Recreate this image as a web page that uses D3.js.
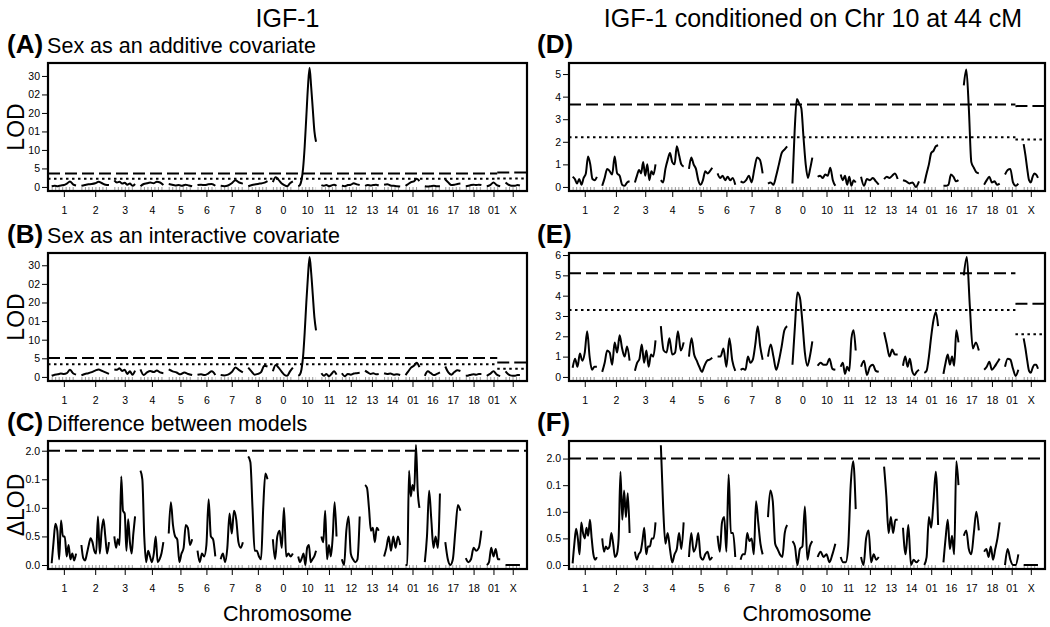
<!DOCTYPE html>
<html><head><meta charset="utf-8">
<script src="https://cdn.jsdelivr.net/npm/d3@7"></script>
<style>
html,body{margin:0;padding:0;background:#fff;}
svg{display:block;font-family:"Liberation Sans",Arial,Helvetica,sans-serif;}
</style></head>
<body><svg id="chart" width="1050" height="627"></svg>
<script>
// ---------------- DATA ----------------
const chromosomes = ["1","2","3","4","5","6","7","8","9","10","11","12","13","14","15","16","17","18","19","X"];
const chrTickLabels = ["1","2","3","4","5","6","7","8","0","10","11","12","13","14","01","16","17","18","01","X"];
const chrLengths = [100,113,85,94,96,73,91,79,82,73,62,73,56,66,57,62,62,64,55,59]; // cM
const chrGap = 22, startPad = 15, endPad = 29;

const lodTicks30 = [0,5,10,15,20,25,30];
const lodTickLabels30 = ["0","5","10","01","20","02","30"];
const lodTicksD = [0,1,2,3,4,5];
const lodTicksE = [0,1,2,3,4,5,6];
const dlodTicks = [0,0.5,1,1.5,2];
const dlodTickLabels = ["0.0","0.5","1.0","0.1","2.0"];

// thresholds: [dashed, dotted] for autosomes and X
const thrA = [3.6, 2.2], thrAX = [3.9, 2.3];
const thrB = [5.1, 3.4], thrBX = [3.9, 2.2];
const thrC = [2.0];
const thrD = [3.65, 2.2], thrDX = [3.58, 2.1];
const thrE = [5.1, 3.3], thrEX = [3.6, 2.1];
const thrF = [2.0];

const lodA = [
 [0.2,0.3,0.2,0.4,0.5,0.9,1.5,0.7,0.4],
 [0.3,0.5,0.7,0.8,1.0,1.4,1.0,0.6,0.5],
 [1.8,1.2,1.4,0.9,1.1,0.6,0.9,0.3,0.8],
 [0.2,0.8,1.0,1.2,1.0,1.4,1.2,0.5],
 [0.8,0.6,0.4,0.5,0.3,0.6,0.4,0.2],
 [0.5,0.6,0.5,0.7,0.8,0.3],
 [0.3,0.2,0.4,1.0,1.8,1.2,0.9],
 [0.2,0.5,0.7,0.9,1.1,1.6],
 [1.3,2.6,1.9,1.0,0.5,0.2,1.0,1.5],
 [0.2,0.5,1.8,5,11,19,27,32.2,27,21,15,12.2],
 [0.5,0.3,0.5,0.2,0.4,0.6,0.3],
 [0.3,0.2,0.5,0.6,1.0,0.7,0.5],
 [0.3,0.5,0.4,0.5,0.6,0.4],
 [0.6,0.7,0.4,0.3,0.2,0.1],
 [0.3,0.8,1.3,1.5,2.2,1.6],
 [0.2,0.1,0.2,0.3,0.2,0.2],
 [2.0,1.2,0.5,0.6,0.8,0.9],
 [0.2,0.3,0.5,0.6,0.5,0.6,0.5],
 [0.2,0.5,1.2,0.5,0.2],
 [1.2,0.7,0.4,0.3,0.3,0.5,0.4]
];
const lodB = [
 [0.3,0.6,0.7,0.9,0.8,1.0,1.9,1.0,0.6],
 [0.4,0.8,1.0,1.3,1.7,2.0,1.6,1.2,0.8],
 [2.0,1.9,2.3,1.6,1.9,0.8,1.5,0.6,1.7],
 [2.0,0.5,1.2,1.6,1.3,1.7,1.2,1.0],
 [2.0,1.5,1.2,0.7,1.2,0.8,0.5],
 [0.6,0.7,0.5,0.9,1.5,0.5],
 [0.5,0.4,0.6,1.3,2.5,1.8,1.2],
 [2.5,1.5,0.6,0.8,1.3,3.0,2.8],
 [1.5,3.2,2.5,1.5,0.6,0.3,1.5,2.5],
 [0.3,0.6,2,5.5,12,20,27,32.2,28,22,16,12.5],
 [1.0,0.3,0.8,0.2,0.8,1.5,0.6],
 [1.0,0.2,0.8,0.6,0.9,1.0,1.1],
 [1.7,1.2,0.8,1.0,0.7,0.8],
 [1.0,0.8,0.9,0.6,0.7,0.5],
 [0.5,1.5,2.5,3.0,3.8,2.6],
 [0.3,1.5,1.0,0.5,0.8,1.2],
 [2.8,1.2,0.6,1.3,1.8,1.6],
 [0.3,0.4,0.6,0.7,0.6,0.8,0.8],
 [0.3,0.8,1.5,0.6,0.2],
 [1.5,0.8,0.4,0.3,0.3,0.5,0.5]
];
const lodC = [
 [0.03,0.4,0.72,0.6,0.1,0.78,0.5,0.5,0.15,0.35,0.1,0.2,0.08,0.2],
 [0.35,0.12,0.08,0.2,0.35,0.47,0.4,0.25,0.2,0.85,0.2,0.6,0.8,0.5,0.2,0.4],
 [0.5,0.3,0.45,0.35,1.55,0.95,0.9,0.25,0.8,0.4,0.2,0.55,0.85],
 [1.65,1.5,0.5,0.05,0.25,0.15,0.05,0.2,0.5,0.05,0.1,0.2,0.4],
 [0.55,1.1,0.7,0.5,0.45,0.05,0.2,0.3,0.7,0.65,0.35,0.45],
 [0.25,0.05,0.2,0.15,0.35,1.15,0.5,0.45,0.15],
 [0.1,0.2,0.05,0.3,0.9,0.55,0.95,0.8,0.4,0.3,0.4],
 [1.9,1.8,1.0,0.25,0.25,0.15,0.1,1.0,1.6,1.5],
 [0.45,0.1,0.5,0.6,0.3,1.0,0.15,0.2,0.15,0.2],
 [0.15,0.05,0.12,0.2,0.0,0.3,0.35,0.05,0.1,0.15,0.25],
 [0.5,0.4,0.95,0.1,0.35,0.15,0.5,1.1,0.5],
 [0.1,0.0,0.6,0.85,0.2,0.1,0.05,0.1,0.85],
 [1.4,1.35,1.0,0.6,0.65,0.4,0.65,0.6],
 [0.15,0.3,0.5,0.25,0.5,0.3,0.5,0.35],
 [0.0,0.0,1.65,1.2,1.4,1.3,2.1,1.3,1.0],
 [0.05,0.5,1.3,0.8,0.3,0.5,0.3,1.25],
 [0.4,0.1,0.0,0.1,0.6,1.05,0.95],
 [0.12,0.05,0.1,0.3,0.25,0.3,0.6],
 [0.0,0.05,0.3,0.15,0.28,0.1,0.1],
 [0.0,0.0]
];
const lodD = [
 [0.45,0.35,0.15,0.35,0.1,0.4,0.6,1.35,1.0,0.35,0.3,0.45],
 [0.05,0.4,0.8,0.7,0.55,1.35,0.6,0.5,0.1,0.05,0.2,0.25],
 [0.2,0.5,0.75,0.6,1.1,0.5,1.0,0.3,0.7,0.55,1.0],
 [0.3,0.2,0.8,1.2,1.5,1.1,1.0,1.8,1.4,1.0,0.9],
 [0.8,1.3,1.0,0.8,0.3,0.1,0.3,0.7,0.6,0.7,0.85],
 [0.6,0.4,0.5,0.3,0.45,0.3,0.4,0.1],
 [0.25,0.2,0.3,0.5,0.2,0.8,1.3,1.2,0.6],
 [0.15,0.2,0.1,0.5,1.0,1.5,1.65,1.8],
 [0.15,2.5,3.9,3.7,3.5,2.2,1.0,0.4,0.8,1.3],
 [0.45,0.5,0.4,0.55,0.5,0.85,0.3,0.05],
 [0.55,0.3,0.5,0.1,0.45,0.05,0.3,0.2],
 [0.45,0.05,0.35,0.3,0.4,0.25,0.1],
 [0.35,0.45,0.4,0.5,0.6,0.35],
 [0.3,0.25,0.15,0.2,0.0,0.25],
 [0.15,0.6,1.0,1.5,1.6,1.8,1.85],
 [0.05,0.05,0.1,0.55,0.45,0.25,0.3],
 [4.5,5.2,3.5,1.1,0.85,0.65,0.6],
 [0.1,0.3,0.45,0.2,0.25,0.1,0.15],
 [0.55,0.75,0.8,0.2,0.05,0.15],
 [1.9,1.4,0.8,0.3,0.2,0.45,0.6,0.55,0.4]
];
const lodE = [
 [0.45,0.9,0.5,1.15,0.8,1.2,2.25,1.0,0.35,0.5,0.5],
 [0.25,0.7,1.3,1.2,0.6,1.7,1.2,2.05,1.4,1.0,1.5,0.8],
 [0.3,0.7,0.9,1.6,0.7,1.3,0.5,1.1,1.0,1.8],
 [2.5,1.3,1.2,1.9,1.1,1.2,2.25,1.3,1.7],
 [1.0,1.9,1.1,0.8,0.5,0.25,0.55,0.8,0.85,0.95],
 [1.0,1.0,1.4,0.5,1.9,0.8,0.3],
 [0.35,0.4,0.35,1.0,0.7,0.85,1.6,2.5,1.5,0.85],
 [1.0,1.6,1.0,0.35,0.8,1.5,2.3,2.5],
 [0.6,2.5,4.15,3.9,2.7,1.2,0.55,1.0,1.75],
 [0.55,0.7,0.6,0.6,0.9,0.4,0.35],
 [0.5,0.7,0.15,0.5,0.3,1.9,2.3,1.3],
 [0.5,0.8,0.1,0.5,0.6,0.3,0.25],
 [2.2,1.6,1.0,1.35,1.1,1.1],
 [0.55,1.0,0.5,0.9,0.3,0.1,0.25,0.35],
 [0.2,0.3,1.0,2.0,2.8,3.2,2.5],
 [0.15,0.7,1.1,0.6,1.0,0.55,2.3,1.7],
 [5.0,5.9,3.5,1.4,1.7,1.3],
 [0.35,0.5,0.75,0.35,0.5,0.7,0.9],
 [0.5,0.9,0.85,0.4,0.05,0.35],
 [1.9,1.4,0.8,0.3,0.2,0.45,0.6,0.6,0.4]
];
const lodF = [
 [0.03,0.4,0.68,0.5,0.2,0.8,0.6,0.5,0.7,0.55,0.85,0.5,0.2,0.1,0.15],
 [0.5,0.25,0.35,0.3,0.35,0.6,0.4,0.15,0.2,0.5,1.75,0.85,1.4,0.9,1.35,0.6],
 [0.25,0.1,0.2,0.25,0.45,0.7,0.2,0.35,0.35,0.5,0.5,0.8],
 [2.25,1.1,0.4,0.6,0.3,0.05,0.2,0.3,0.6,0.3,0.8],
 [0.15,0.6,0.25,0.35,0.6,0.15,0.1,0.2,0.25,0.1,0.15],
 [0.55,0.25,0.8,0.9,0.25,1.7,0.6,0.6,0.15],
 [0.1,0.2,0.2,0.6,0.45,0.5,0.2,1.2,0.8,0.4,0.2],
 [0.9,1.4,1.2,0.4,0.3,0.2,0.15,0.6,0.75],
 [0.45,0.35,0.0,0.3,0.35,1.1,0.1,0.35,0.45],
 [0.15,0.25,0.15,0.2,0.05,0.2,0.4],
 [0.15,0.05,0.05,0.35,1.5,1.95,1.05],
 [0.15,0.0,0.5,0.65,0.05,0.2,0.1,0.15],
 [1.85,1.3,0.6,0.9,0.6,0.85,0.85],
 [0.7,0.2,0.75,0.0,0.1,0.05,0.1],
 [0.0,0.15,0.9,0.7,1.2,1.75,0.75],
 [0.05,0.5,0.85,0.3,0.55,0.2,1.95,1.5],
 [0.55,0.65,0.3,0.2,0.6,1.0,0.65],
 [0.25,0.3,0.15,0.35,0.1,0.3,0.5,0.8],
 [0.0,0.3,0.1,0.0,0.0,0.2],
 [0.0,0.0]
];

// ---------------- LAYOUT ----------------
const svg = d3.select("#chart");
const FONT = "'Liberation Sans',Arial,Helvetica,sans-serif";

const chrStarts = [];
{ let p = startPad; chrLengths.forEach((L,i)=>{ chrStarts.push(p); p += L + chrGap; }); }
const totalLen = chrStarts[chrStarts.length-1] + chrLengths[chrLengths.length-1] + endPad;
const chrMids = chrStarts.map((s,i)=> s + chrLengths[i]/2);
const xBoundary = chrStarts[18] + chrLengths[18] - 12;

const cols = [{x0:48,x1:527},{x0:569,x1:1045}];
const rows = [{y0:63,y1:191},{y0:253,y1:381},{y0:441,y1:569}];

const panels = [
 {letter:"(A)", sub:"Sex as an additive covariate", col:0,row:0, data:lodA, thr:thrA, thrX:thrAX, dom:[-1.1,33.5], ticks:lodTicks30, tickLabels:lodTickLabels30, ylab:"LOD"},
 {letter:"(B)", sub:"Sex as an interactive covariate", col:0,row:1, data:lodB, thr:thrB, thrX:thrBX, dom:[-1.1,33.3], ticks:lodTicks30, tickLabels:lodTickLabels30, ylab:"LOD"},
 {letter:"(C)", sub:"Difference between models", col:0,row:2, data:lodC, thr:thrC, thrX:null, dom:[-0.07,2.17], ticks:dlodTicks, tickLabels:dlodTickLabels, ylab:"\u0394LOD", xlab:true},
 {letter:"(D)", sub:"", col:1,row:0, data:lodD, thr:thrD, thrX:thrDX, dom:[-0.18,5.49], ticks:lodTicksD, tickLabels:lodTicksD.map(String)},
 {letter:"(E)", sub:"", col:1,row:1, data:lodE, thr:thrE, thrX:thrEX, dom:[-0.2,6.1], ticks:lodTicksE, tickLabels:lodTicksE.map(String)},
 {letter:"(F)", sub:"", col:1,row:2, data:lodF, thr:thrF, thrX:null, dom:[-0.075,2.33], ticks:dlodTicks, tickLabels:dlodTickLabels, xlab:true}
];

svg.append("text").attr("x",(cols[0].x0+cols[0].x1)/2).attr("y",27).attr("text-anchor","middle")
  .attr("font-size",25).attr("font-family",FONT).text("IGF-1");
svg.append("text").attr("x",813).attr("y",27).attr("text-anchor","middle")
  .attr("font-size",25).attr("font-family",FONT).text("IGF-1 conditioned on Chr 10 at 44 cM");

const dashStyles = ["12,5","2.5,3.5"];

panels.forEach(p=>{
  const c = cols[p.col], r = rows[p.row];
  const x = d3.scaleLinear().domain([0,totalLen]).range([c.x0,c.x1]);
  const y = d3.scaleLinear().domain(p.dom).range([r.y1,r.y0]);
  const g = svg.append("g");

  const lx = p.col===0 ? 7 : 537;
  const ht = g.append("text").attr("x",lx).attr("y",r.y0-10).attr("font-family",FONT);
  ht.append("tspan").attr("font-weight","bold").attr("font-size",26).text(p.letter);
  if (p.sub) ht.append("tspan").attr("font-size",21.5).attr("dx",4).text(p.sub);

  const clipId = "clip"+p.letter.replace(/[()]/g,"");
  svg.append("clipPath").attr("id",clipId).append("rect")
    .attr("x",c.x0).attr("y",r.y0).attr("width",c.x1-c.x0).attr("height",r.y1-r.y0);
  const inner = g.append("g").attr("clip-path","url(#"+clipId+")");

  chromosomes.forEach((ch,i)=>{
    inner.append("line")
      .attr("x1",x(chrStarts[i])).attr("x2",x(chrStarts[i]+chrLengths[i]))
      .attr("y1",r.y1-2.5).attr("y2",r.y1-2.5)
      .attr("stroke","#9a9a9a").attr("stroke-width",3).attr("stroke-dasharray","1,2.5");
  });

  p.thr.forEach((t,k)=>{
    const xEnd = p.thrX ? xBoundary : totalLen;
    inner.append("line").attr("x1",x(0)).attr("x2",x(xEnd)).attr("y1",y(t)).attr("y2",y(t))
      .attr("stroke","#000").attr("stroke-width",2).attr("stroke-dasharray",dashStyles[k]);
  });
  if (p.thrX) p.thrX.forEach((t,k)=>{
    inner.append("line").attr("x1",x(xBoundary)).attr("x2",x(totalLen)).attr("y1",y(t)).attr("y2",y(t))
      .attr("stroke","#000").attr("stroke-width",2).attr("stroke-dasharray",dashStyles[k]);
  });

  const line = d3.line().x(d=>x(d[0])).y(d=>y(d[1])).curve(d3.curveMonotoneX);
  p.data.forEach((vals,i)=>{
    const pts = vals.map((v,k)=>[chrStarts[i] + (vals.length>1 ? k/(vals.length-1) : 0)*chrLengths[i], v]);
    inner.append("path").attr("d",line(pts)).attr("fill","none")
      .attr("stroke","#000").attr("stroke-width",2).attr("stroke-linejoin","round");
  });

  g.append("rect").attr("x",c.x0).attr("y",r.y0).attr("width",c.x1-c.x0).attr("height",r.y1-r.y0)
    .attr("fill","none").attr("stroke","#000").attr("stroke-width",2.2);

  const ya = d3.axisLeft(y).tickValues(p.ticks).tickSize(5).tickPadding(2)
    .tickFormat((d,i)=>p.tickLabels[i]);
  const yg = g.append("g").attr("transform",`translate(${c.x0-1},0)`).call(ya);
  yg.select(".domain").remove();
  yg.selectAll("text").attr("font-size",10.5).attr("font-family",FONT).attr("fill","#000");

  const xa = d3.axisBottom(x).tickValues(chrMids).tickSize(5).tickPadding(10)
    .tickFormat((d,i)=>chrTickLabels[i]);
  const xg = g.append("g").attr("transform",`translate(0,${r.y1+1})`).call(xa);
  xg.select(".domain").remove();
  xg.selectAll("text").attr("font-size",10.5).attr("font-family",FONT).attr("fill","#000");

  if (p.ylab) {
    g.append("text").attr("transform",`translate(24,${(r.y0+r.y1)/2}) rotate(-90)`)
      .attr("text-anchor","middle").attr("font-size",23).attr("font-family",FONT).text(p.ylab);
  }
  if (p.xlab) {
    g.append("text").attr("x",(c.x0+c.x1)/2).attr("y",621).attr("text-anchor","middle")
      .attr("font-size",21.5).attr("font-family",FONT).text("Chromosome");
  }
});
</script></body></html>
